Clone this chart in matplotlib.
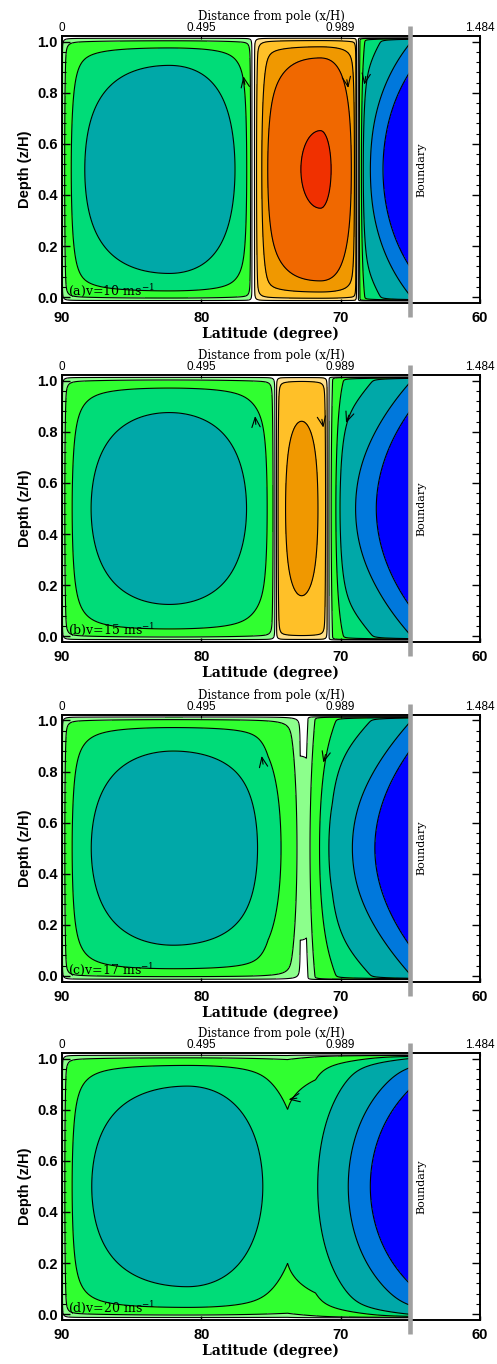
import numpy as np
import matplotlib
matplotlib.use("Agg")
import matplotlib.pyplot as plt

plt.rcParams['mathtext.fontset'] = 'dejavuserif'

# ---- values (latitudes in degrees, amplitudes in contour units) ----
PANEL_TAGS = ['(a)', '(b)', '(c)', '(d)']
WIND = [10, 15, 17, 20]

LEVELS = [0.05, 0.26, 0.6, 0.78, 1.0, 1.15]
COLORS_NEG = ['#0000ff', '#0078dc', '#00a8a8', '#00dc78', '#30ff30', '#8cff8c']   # strongest -> weakest
COLORS_POS = ['#ffe08c', '#ffc028', '#f09800', '#f06800', '#f03000', '#c00000']   # weakest -> strongest

# polar (clockwise) cell: plateau end, core end, core peak, amplitude, edge layer width
POLAR_EDGE = [76.35, 74.7, 72.9, 60.0]
POLAR_CORE_END = [76.35, 74.7, 72.9, 71.8]
POLAR_PEAK = [82.3, 82.3, 82.0, 81.0]
POLAR_AMP = [-0.97, -0.93, -0.935, -0.95]
POLAR_LAM_R = [0.3, 0.4, 1.8, 0.1]
POLAR_POW_R = [0.5, 0.5, 0.5, 1.0]

# middle (positive) cell
MID_LEFT = [76.2, 74.62, None, None]
MID_RIGHT = [68.85, 70.95, None, None]
MID_PEAK = [71.45, 72.8, None, None]
MID_AMP = [1.025, 0.69, 0.0, 0.0]
MID_LAM_L = [0.6, 0.3, None, None]
MID_LAM_R = [0.14, 0.3, None, None]

# cell against the boundary
RIGHT_EDGE = [68.75, 70.88, 72.45, 73.8]
RIGHT_W = [0.58, 0.61, 0.6, 0.0]
RIGHT_POW = [0.85, 1.3, 1.6, 0.88]
RIGHT_LAM = [0.31, 0.68, 1.35, 1.0]
RIGHT_AMP = [-1.43, -1.43, -1.43, -0.888]

# weak neck between polar and boundary cells
NECK_AMP = [0.0, 0.0, -0.11, 0.0]
NECK_SPAN = (75.2, 70.6)

# flow arrows: latitude, depth, direction (screen degrees)
ARROWS = [
    [(76.98, 0.865, 100), (69.45, 0.819, 280), (68.3, 0.832, 260)],
    [(76.14, 0.862, 95), (71.24, 0.817, 280), (69.61, 0.835, 250)],
    [(75.67, 0.861, 100), (71.24, 0.835, 255)],
    [(73.73, 0.84, 190)],
]

LAT_TICKS = [90, 80, 70, 60]
DIST_LABELS = ['0', '0.495', '0.989', '1.484']
BOUNDARY_LAT = 65.0

W_CELL, CORE_POW, LAM_LEFT_WALL, LAM_Z = 0.55, 0.5, 0.57, 0.031
W_ZR, LAM_ZR = 0.68, 0.0047
ZB, ZT = -0.015, 1.015


def wall(d, lam):
    return np.tanh(np.clip(d, 0, None) / lam)


def core(lat, left, right, peak, p_left, p_right):
    inside = (lat <= left) & (lat >= right)
    west = lat >= peak
    s = np.where(west, 0.5 * (left - lat) / (left - peak),
                 0.5 + 0.5 * (peak - lat) / (peak - right))
    base = np.clip(np.sin(np.pi * np.clip(s, 0, 1)), 0, None)
    return np.where(inside, np.where(west, base ** p_left, base ** p_right), 0.0)


def cell_x(lat, left, right, core_end, peak, w, lam_l, lam_r, p_right=CORE_POW):
    inside = (lat <= left) & (lat >= right)
    plateau = np.where(inside, wall(left - lat, lam_l) * wall(lat - right, lam_r), 0.0)
    return w * plateau + (1 - w) * core(lat, left, core_end, peak, CORE_POW, p_right)


def right_x(lat, edge, w, q, lam):
    d = np.clip(edge - lat, 0, None)
    r = d / (edge - BOUNDARY_LAT)
    return w * wall(d, lam) + (1 - w) * r ** q


def cell_z(zeta):
    return W_CELL * wall(zeta, LAM_Z) * wall(1 - zeta, LAM_Z) + \
        (1 - W_CELL) * np.clip(np.sin(np.pi * zeta), 0, None) ** CORE_POW


def right_z(zeta):
    return W_ZR * wall(zeta, LAM_ZR) * wall(1 - zeta, LAM_ZR) + \
        (1 - W_ZR) * np.clip(np.sin(np.pi * zeta), 0, None)


lat = np.linspace(90, BOUNDARY_LAT, 900)
zz = np.linspace(ZB, ZT, 800)
LAT, Z = np.meshgrid(lat, zz)
zeta = (Z - ZB) / (ZT - ZB)

fig = plt.figure(figsize=(4.97, 13.64), dpi=100)
bottoms = [0.7779, 0.5293, 0.2803, 0.0323]
bounds = [-50] + [-l for l in LEVELS[::-1]] + LEVELS + [50]
colors = COLORS_NEG + ['#ffffff'] + COLORS_POS

for i in range(4):
    ax = fig.add_axes([0.1247, bottoms[i], 0.841, 0.1958])
    zc = cell_z(zeta)
    psi = POLAR_AMP[i] * cell_x(LAT, 90.0, POLAR_EDGE[i], POLAR_CORE_END[i], POLAR_PEAK[i],
                                W_CELL, LAM_LEFT_WALL, POLAR_LAM_R[i], POLAR_POW_R[i]) * zc
    if MID_AMP[i] != 0:
        psi += MID_AMP[i] * cell_x(LAT, MID_LEFT[i], MID_RIGHT[i], MID_RIGHT[i], MID_PEAK[i],
                                   W_CELL, MID_LAM_L[i], MID_LAM_R[i]) * zc
    psi += RIGHT_AMP[i] * right_x(LAT, RIGHT_EDGE[i], RIGHT_W[i], RIGHT_POW[i],
                                  RIGHT_LAM[i]) * right_z(zeta)
    if NECK_AMP[i] != 0:
        n0, n1 = NECK_SPAN
        psi += NECK_AMP[i] * core(LAT, n0, n1, 0.5 * (n0 + n1), 1.0, 1.0) * np.sin(np.pi * zeta)

    ax.contourf(LAT, Z, psi, levels=bounds, colors=colors, zorder=1)
    ax.contour(LAT, Z, psi, levels=[-l for l in LEVELS[::-1]] + LEVELS,
               colors='k', linewidths=0.8, linestyles='solid', zorder=2)

    for (alat, az, ang) in ARROWS[i]:
        dx, dy = np.cos(np.radians(ang)), np.sin(np.radians(ang))
        ax.annotate('', xy=(alat, az), xytext=(-dx * 6, -dy * 6), textcoords='offset points',
                    arrowprops=dict(arrowstyle='->,head_length=0.7,head_width=0.3',
                                    color='k', lw=0.8, shrinkA=0, shrinkB=0), zorder=4)

    ax.set_xlim(90, 60)
    ax.set_ylim(-0.023, 1.023)
    ax.set_axisbelow(False)
    for sp in ax.spines.values():
        sp.set_linewidth(1.4)
        sp.set_zorder(6)

    ax.set_yticks(np.arange(0, 1.01, 0.2))
    ax.set_yticks(np.arange(0, 1.01, 0.04), minor=True)
    ax.set_yticklabels(['%.1f' % v for v in np.arange(0, 1.01, 0.2)],
                       fontfamily='Liberation Sans', fontweight='bold', fontsize=10.5)
    ax.set_xticks(LAT_TICKS)
    ax.set_xticklabels([str(v) for v in LAT_TICKS], fontfamily='Liberation Sans',
                       fontweight='bold', fontsize=10.5)
    ax.tick_params(axis='y', which='major', direction='in', length=5.5, width=1,
                   left=True, right=True, pad=3)
    ax.tick_params(axis='y', which='minor', direction='in', length=3, width=0.8,
                   left=True, right=True)
    ax.tick_params(axis='x', which='major', direction='in', length=3, width=1,
                   top=False, pad=6)
    ax.set_xlabel('Latitude (degree)', fontfamily='DejaVu Serif', fontweight='bold',
                  fontsize=10, labelpad=1)
    ax.set_ylabel('Depth (z/H)', fontfamily='Liberation Sans', fontweight='bold',
                  fontsize=10.5, labelpad=4)

    top = ax.twiny()
    top.set_xlim(90, 60)
    top.set_xticks(LAT_TICKS)
    top.set_xticklabels(DIST_LABELS, fontfamily='Liberation Sans', fontsize=8.5)
    top.tick_params(axis='x', direction='in', length=2.5, width=0.8, pad=1.5)
    top.set_xlabel('Distance from pole (x/H)', fontfamily='DejaVu Serif', fontsize=8.5,
                   labelpad=1)
    for sp in top.spines.values():
        sp.set_visible(False)

    ax.plot([BOUNDARY_LAT, BOUNDARY_LAT], [-0.078, 1.063], color='#a0a0a0', lw=3.3,
            solid_capstyle='butt', clip_on=False, zorder=7)
    ax.text(64.2, 0.5, 'Boundary', rotation=90, ha='center', va='center',
            fontfamily='DejaVu Serif', fontsize=8)
    ax.text(89.6, -0.008, '%sv=%d ms$^{-1}$' % (PANEL_TAGS[i], WIND[i]),
            fontfamily='DejaVu Serif', fontsize=9, ha='left', va='bottom', zorder=5)

fig.savefig('out.png', dpi=100)
